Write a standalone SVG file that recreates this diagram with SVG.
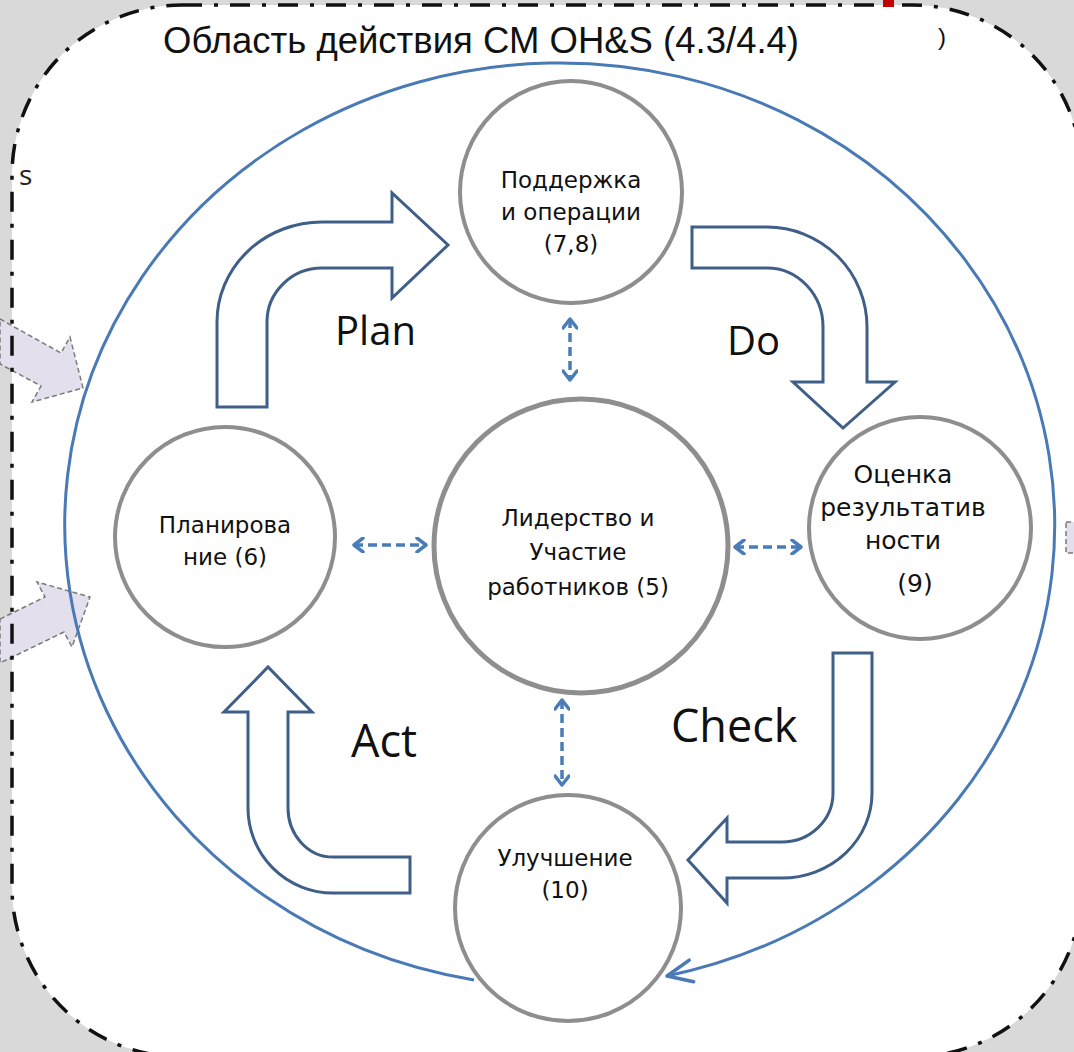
<svg xmlns="http://www.w3.org/2000/svg" width="1074" height="1052" viewBox="0 0 1074 1052">
<style>
.node circle{fill:#fff;stroke:#8e8e8e;stroke-width:4}
.node text{font-family:"DejaVu Sans",Verdana,sans-serif;font-size:23px;fill:#111;text-anchor:middle}
.pdca{fill:#fff;stroke:#3f5f88;stroke-width:3;stroke-linejoin:miter}
.lbl{font-family:"Open Sans","Noto Sans",sans-serif;font-size:40px;fill:#111}
.dash{fill:none;stroke:#4a7cba;stroke-width:3.5;stroke-dasharray:9 5}
.ext{fill:#e3dfec;stroke:#7a7a7a;stroke-width:1.5;stroke-dasharray:5 3}
</style>
<defs>
<marker id="chev" viewBox="-12 -8 14 16" markerWidth="14" markerHeight="16" refX="0" refY="0" orient="auto-start-reverse" markerUnits="userSpaceOnUse">
<path d="M-9,-7 L0,0 L-9,7" fill="none" stroke="#4a7cba" stroke-width="3.5" stroke-linecap="round" stroke-linejoin="round"/>
</marker>
<marker id="vee" viewBox="-30 -14 34 28" markerWidth="34" markerHeight="28" refX="0" refY="0" orient="auto" markerUnits="userSpaceOnUse">
<path d="M-25,-11 L0,0 L-25,11" fill="none" stroke="#4a7ab5" stroke-width="3.5" stroke-linecap="round" stroke-linejoin="round"/>
</marker>
</defs>
<rect x="0" y="0" width="1074" height="1052" fill="#d9d9d9"/>
<rect x="12" y="5" width="1070" height="1052" rx="170" ry="170" fill="#fff"/>
<g id="external-inputs">
<polygon class="ext" points="0,319 61,353 70,337 83,388 32,402 41,386 0,364"/>
<polygon class="ext" points="0,619 45,597 37,582 90,597 72,647 64,632 0,663"/>
<rect class="ext" x="1066" y="522" width="12" height="31"/>
</g>
<rect id="scope-border" x="12" y="5" width="1070" height="1052" rx="170" ry="170" fill="none" stroke="#111" stroke-width="3.5" stroke-dasharray="20 12 4 12"/>
<rect x="883" y="0" width="11" height="7" fill="#c00000"/>
<text x="163" y="53" font-family="Liberation Sans,Arial,sans-serif" font-size="36.5" fill="#111">Область действия СМ OH&amp;S (4.3/4.4)</text>
<text x="938" y="45" font-family="Liberation Sans,Arial,sans-serif" font-size="24" fill="#111">)</text>
<text x="19" y="185" font-family="Open Sans,sans-serif" font-size="28" fill="#222">s</text>
<g id="connectors">
<path d="M474,980 A495,462 0 1 1 667,976" fill="none" stroke="#4a7ab5" stroke-width="3" marker-end="url(#vee)"/>
<line class="dash" x1="570" y1="319" x2="570" y2="380" marker-start="url(#chev)" marker-end="url(#chev)"/>
<line class="dash" x1="562" y1="700" x2="562" y2="785" marker-start="url(#chev)" marker-end="url(#chev)"/>
<line class="dash" x1="354" y1="545" x2="426" y2="545" marker-start="url(#chev)" marker-end="url(#chev)"/>
<line class="dash" x1="735" y1="547" x2="801" y2="547" marker-start="url(#chev)" marker-end="url(#chev)"/>
</g>
<g id="pdca-arrows">
<g id="plan">
<path class="pdca" d="M217,407 L217,322 A105,100 0 0 1 322,222 L392,222 L392,193 L448,245 L392,298 L392,268 L322,268 A55,54 0 0 0 267,322 L267,407 Z"/>
<text class="lbl" x="335" y="345">Plan</text>
</g>
<g id="do">
<path class="pdca" d="M692,227 L767,227 A100,100 0 0 1 867,327 L867,382 L895,382 L843,428 L793,382 L823,382 L823,327 A56,59 0 0 0 767,268 L692,268 Z"/>
<text class="lbl" x="727" y="355">Do</text>
</g>
<g id="check">
<path class="pdca" d="M833,653 L872,653 L872,793 A90,85 0 0 1 782,878 L727,878 L727,903 L688,860 L727,818 L727,842 L782,842 A51,49 0 0 0 833,793 Z"/>
<text class="lbl" x="671" y="742" style="font-size:45px">Check</text>
</g>
<g id="act">
<path class="pdca" d="M410,857 L410,893 L333,893 A85,85 0 0 1 248,808 L248,712 L224,712 L268,667 L312,712 L288,712 L288,808 A45,49 0 0 0 333,857 Z"/>
<text class="lbl" x="351" y="757" style="font-size:45px">Act</text>
</g>
</g>
<g id="node-support" class="node">
<circle cx="571" cy="192" r="111"/>
<text x="571" y="188">Поддержка</text>
<text x="571" y="220">и операции</text>
<text x="571" y="252">(7,8)</text>
</g>
<g id="node-planning" class="node">
<circle cx="225" cy="537" r="110"/>
<text x="225" y="533">Планирова</text>
<text x="225" y="565">ние (6)</text>
</g>
<g id="node-leadership" class="node">
<circle cx="581" cy="546" r="147" style="stroke-width:5"/>
<text x="578" y="526">Лидерство и</text>
<text x="578" y="560">Участие</text>
<text x="578" y="595">работников (5)</text>
</g>
<g id="node-evaluation" class="node">
<circle cx="920" cy="528" r="111"/>
<text x="903" y="483" style="font-size:25px">Оценка</text>
<text x="903" y="516" style="font-size:25px">результатив</text>
<text x="903" y="549" style="font-size:25px">ности</text>
<text x="915" y="592" style="font-size:25px">(9)</text>
</g>
<g id="node-improvement" class="node">
<circle cx="568" cy="908" r="113"/>
<text x="565" y="866">Улучшение</text>
<text x="565" y="898">(10)</text>
</g>
</svg>
